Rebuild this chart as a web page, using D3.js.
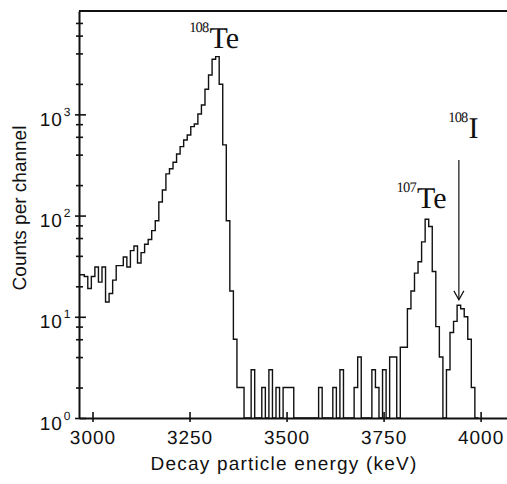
<!DOCTYPE html>
<html>
<head>
<meta charset="utf-8">
<script src="https://cdnjs.cloudflare.com/ajax/libs/d3/7.8.5/d3.min.js"></script>
<style>
body { margin: 0; background: #fff; -webkit-font-smoothing: antialiased; }
text { font-family: "Liberation Sans", Arial, Helvetica, sans-serif; fill: #111; text-rendering: geometricPrecision; }
.iso { font-family: "Liberation Serif", "Times New Roman", serif; }
</style>
</head>
<body>
<div id="spectrum"></div>
<script>
// channel layout of the spectrum (keV)
var binStart = 2960.4;
var binWidth = 9.15;

// counts per channel (0 = empty channel)
var counts = [
    26, 26, 25, 19, 25, 31, 22, 31, 14, 17, 23, 32, 32, 39, 31, 45, 50, 34, 43, 52,
    58, 71, 89, 136, 179, 258, 290, 336, 406, 480, 558, 626, 756, 804, 1009, 1238, 1770, 2449, 3508, 3716,
    1982, 499, 89, 18, 6, 2, 2,
    0, 0, 3, 0, 0, 2, 0, 3, 0, 2, 0, 2, 2, 2, 0, 0, 0, 0, 0, 0,
    0, 2, 0, 0, 0, 2, 0, 3, 0, 0, 0, 2, 4, 0, 0, 0, 3, 2, 0, 3,
    0, 4, 4, 0, 5, 5, 12, 18, 27, 35, 55, 92, 78, 28, 8, 4, 0, 3, 7, 9,
    13, 12, 10, 6, 2, 0
];

var xTicks = [3000, 3250, 3500, 3750, 4000];
var yTicks = [1, 10, 100, 1000];
var yMinorTicks = [2, 4, 6, 8, 20, 40, 60, 80, 200, 400, 600, 800, 2000, 4000, 6000, 8000];

var peakLabels = [
    { mass: "108", element: "Te", energy: 3249, count: 4500 },
    { mass: "107", element: "Te", energy: 3783.5, count: 118 },
    { mass: "108", element: "I", energy: 3916.5, count: 580 }
];
var arrow = { energy: 3944, from: 354, to: 14.7 };

var width = 507, height = 484;
var plot = { left: 79, right: 507, top: 11, bottom: 418 };

var svg = d3.select("#spectrum").append("svg")
    .attr("width", width)
    .attr("height", height);

var x = d3.scaleLinear()
    .domain([2965.2, 4068])
    .range([plot.left, plot.right]);

var y = d3.scaleLog()
    .domain([1, 10500])
    .range([plot.bottom, plot.top]);

svg.append("clipPath")
    .attr("id", "plot-clip")
    .append("rect")
    .attr("x", plot.left)
    .attr("y", 0)
    .attr("width", plot.right - plot.left)
    .attr("height", plot.bottom + 2);

// histogram as a step line over channel edges
var edges = counts.map(function (c, i) {
    return { e: binStart + i * binWidth, c: c };
});
edges.push({ e: binStart + counts.length * binWidth, c: 0 });

var step = d3.line()
    .x(function (d) { return x(d.e); })
    .y(function (d) { return y(Math.max(d.c, 1)); })
    .curve(d3.curveStepAfter);

svg.append("path")
    .datum(edges)
    .attr("clip-path", "url(#plot-clip)")
    .attr("fill", "none")
    .attr("stroke", "#111")
    .attr("stroke-width", 1.4)
    .attr("d", step);

// top frame
svg.append("line")
    .attr("x1", plot.left).attr("x2", plot.right)
    .attr("y1", plot.top).attr("y2", plot.top)
    .attr("stroke", "#111")
    .attr("stroke-width", 2);

// x axis, ticks crossing the line
var gx = svg.append("g")
    .attr("transform", "translate(0," + plot.bottom + ")")
    .call(d3.axisBottom(x).tickValues(xTicks).tickSize(4).tickSizeOuter(0).tickPadding(9)
        .tickFormat(d3.format("d")));
svg.append("g")
    .attr("transform", "translate(0," + plot.bottom + ")")
    .call(d3.axisBottom(x).tickValues(xTicks).tickSize(-6).tickSizeOuter(0).tickFormat(""))
    .select(".domain").remove();

gx.selectAll(".tick text")
    .attr("font-size", "19px")
    .attr("letter-spacing", "1px")
    .attr("font-family", "Liberation Sans, Arial, sans-serif");

// y axis with major and minor crossing ticks
var gy = svg.append("g")
    .attr("transform", "translate(" + plot.left + ",0)")
    .call(d3.axisLeft(y).tickValues(yTicks).tickSize(4).tickSizeOuter(0).tickPadding(4.5));
svg.append("g")
    .attr("transform", "translate(" + plot.left + ",0)")
    .call(d3.axisLeft(y).tickValues(yTicks).tickSize(-7).tickSizeOuter(0).tickFormat(""))
    .select(".domain").remove();
svg.append("g")
    .attr("transform", "translate(" + plot.left + ",0)")
    .call(d3.axisLeft(y).tickValues(yMinorTicks).tickSize(3).tickSizeOuter(0).tickFormat(""))
    .select(".domain").remove();
svg.append("g")
    .attr("transform", "translate(" + plot.left + ",0)")
    .call(d3.axisLeft(y).tickValues(yMinorTicks).tickSize(-4).tickSizeOuter(0).tickFormat(""))
    .select(".domain").remove();

gy.selectAll(".tick text").each(function (d) {
    var t = d3.select(this)
        .text(null)
        .attr("dy", null)
        .attr("y", 11)
        .attr("font-size", "19px")
        .attr("font-family", "Liberation Sans, Arial, sans-serif");
    t.append("tspan").attr("letter-spacing", "1px").text("10");
    t.append("tspan")
        .attr("dy", -10)
        .attr("dx", 1)
        .attr("font-size", "12px")
        .text(Math.round(Math.log10(d)));
});

svg.selectAll(".domain")
    .attr("stroke", "#111")
    .attr("stroke-width", 2);
svg.selectAll(".tick line")
    .attr("stroke", "#111")
    .attr("stroke-width", 1.6);

// axis titles
svg.append("text")
    .attr("x", 284)
    .attr("y", 470)
    .attr("text-anchor", "middle")
    .attr("font-size", "19px")
    .attr("letter-spacing", "1.2px")
    .text("Decay particle energy (keV)");

svg.append("text")
    .attr("transform", "translate(26,208) rotate(-90)")
    .attr("text-anchor", "middle")
    .attr("font-size", "19px")
    .text("Counts per channel");

// isotope labels
peakLabels.forEach(function (p) {
    var px = x(p.energy), py = y(p.count);
    var sup = svg.append("text")
        .attr("class", "iso")
        .attr("x", px)
        .attr("y", py - 16.6)
        .attr("font-size", "14.5px")
        .attr("letter-spacing", "-0.8px")
        .text(p.mass);
    var w = sup.node().getComputedTextLength();
    svg.append("text")
        .attr("class", "iso")
        .attr("x", px + w + 1)
        .attr("y", py)
        .attr("font-size", "30px")
        .text(p.element);
});

// arrow to the 108I peak
var ax = x(arrow.energy), ay0 = y(arrow.from), ay1 = y(arrow.to);
svg.append("line")
    .attr("x1", ax).attr("x2", ax)
    .attr("y1", ay0).attr("y2", ay1)
    .attr("stroke", "#111")
    .attr("stroke-width", 1.2);
svg.append("path")
    .attr("d", "M" + (ax - 5) + "," + (ay1 - 9) + "L" + ax + "," + ay1 + "L" + (ax + 5) + "," + (ay1 - 9))
    .attr("fill", "none")
    .attr("stroke", "#111")
    .attr("stroke-width", 1.2);
</script>
</body>
</html>
